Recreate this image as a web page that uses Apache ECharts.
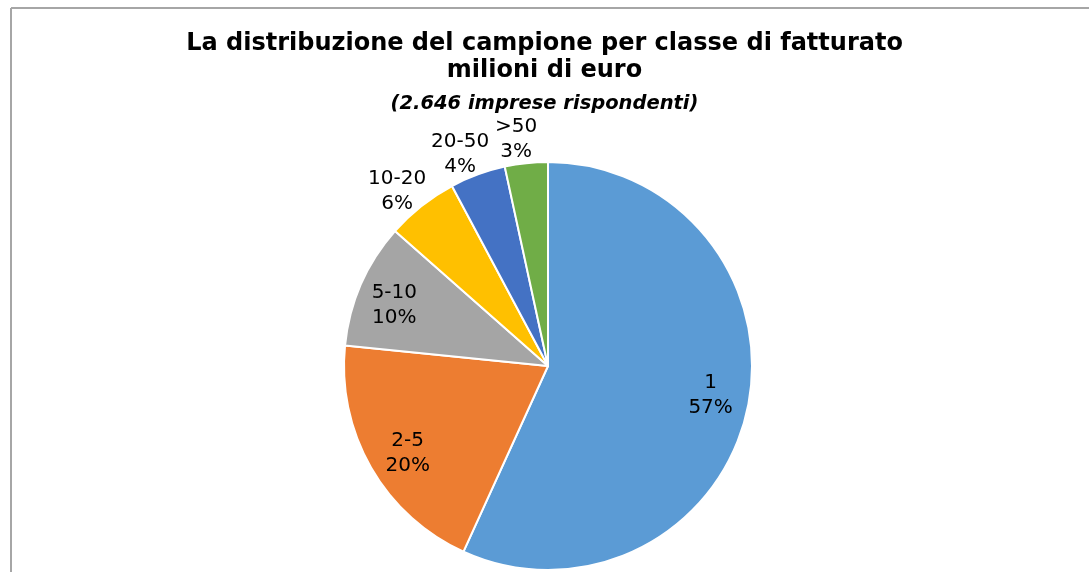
<!DOCTYPE html>
<html>
<head>
<meta charset="utf-8" />
<title>Distribuzione del campione</title>
<script src="https://cdn.jsdelivr.net/npm/echarts@6/dist/echarts.min.js"></script>
<style>
  html, body { margin: 0; padding: 0; background: #fff; }
  #chart { width: 1089px; height: 572px; }
</style>
</head>
<body>
<div id="chart"></div>
<script>
// classi di fatturato (milioni di euro) e quote in % (stimate dagli angoli, etichette arrotondate)
var classi = ['1', '2-5', '5-10', '10-20', '20-50', '>50'];
var quote = [56.8, 19.8, 9.9, 5.7, 4.4, 3.4];
var colori = ['#5b9bd5', '#ed7d31', '#a5a5a5', '#ffc000', '#4472c4', '#70ad47'];

var cx = 548, cy = 366, r = 204;

var chart = echarts.init(document.getElementById('chart'));

var dati = classi.map(function (c, i) {
  return { name: c, value: quote[i], itemStyle: { color: colori[i] } };
});

option = {
  animation: false,
  title: [
    {
      text: 'La distribuzione del campione per classe di fatturato\nmilioni di euro',
      left: 'center',
      top: 25,
      textStyle: { fontFamily: 'DejaVu Sans', fontWeight: 'bold', fontSize: 24, color: '#000', lineHeight: 27 }
    },
    {
      text: '(2.646 imprese rispondenti)',
      left: 'center',
      top: 89,
      textStyle: { fontFamily: 'DejaVu Sans', fontWeight: 'bold', fontStyle: 'italic', fontSize: 19.5, color: '#000' }
    }
  ],
  graphic: [
    { type: 'line', shape: { x1: 11, y1: 8, x2: 1089, y2: 8 }, style: { stroke: '#a6a6a6', lineWidth: 2 } },
    { type: 'line', shape: { x1: 11, y1: 8, x2: 11, y2: 572 }, style: { stroke: '#a6a6a6', lineWidth: 2 } }
  ],
  series: [
    {
      type: 'pie',
      center: [cx, cy],
      radius: r,
      startAngle: 90,
      clockwise: true,
      itemStyle: { borderColor: '#fff', borderWidth: 2 },
      label: {
        position: 'inside',
        formatter: function (p) { return p.name + '\n' + Math.round(p.value) + '%'; },
        fontFamily: 'DejaVu Sans',
        fontSize: 20,
        lineHeight: 25,
        color: '#000'
      },
      labelLine: { show: false },
      // etichette grandi verso il bordo, piccole fuori con il riquadro appoggiato al cerchio (come Excel)
      labelLayout: function (p) {
        var w = p.labelRect.width, h = p.labelRect.height;
        var lx = p.labelRect.x + w / 2;
        var ly = p.labelRect.y + h / 2;
        var ang = Math.atan2(cy - ly, lx - cx) + 2 * Math.PI / 180;
        var ux = Math.cos(ang), uy = -Math.sin(ang);
        var nx, ny;
        if (quote[p.dataIndex] < 8) {
          nx = cx + ux * 1.0 * r + ux * w / 2;
          ny = cy + uy * 1.0 * r + uy * h / 2;
        } else {
          nx = cx + ux * 0.81 * r;
          ny = cy + uy * 0.81 * r;
        }
        return { dx: nx - lx, dy: ny - ly };
      },
      data: dati
    }
  ]
};
chart.setOption(option);
</script>
</body>
</html>
